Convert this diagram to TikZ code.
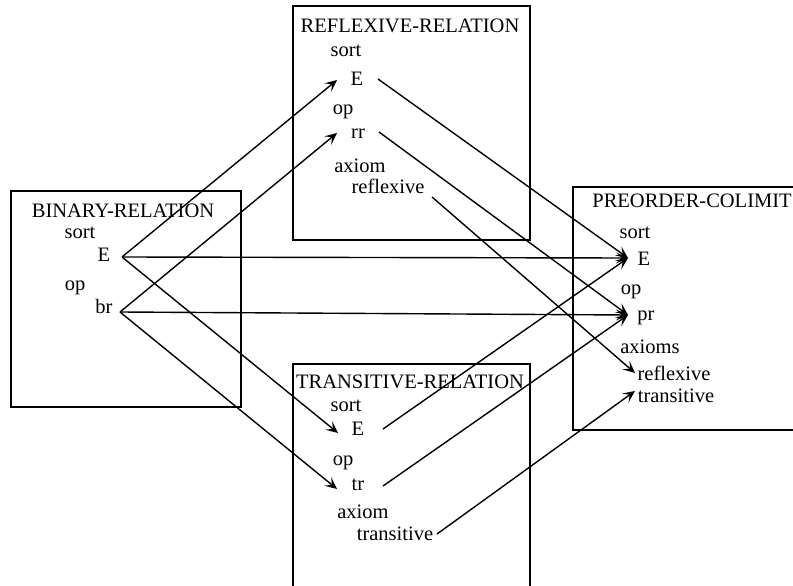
\documentclass[tikz,border=0pt]{standalone}
\usepackage{fontspec}
\setmainfont{Liberation Serif}
\usetikzlibrary{arrows.meta}
\begin{document}
\begin{tikzpicture}[x=1pt,y=-1pt,
  txt/.style={inner sep=0pt,anchor=base,font=\fontsize{20.5}{24}\selectfont},
  specbox/.style={draw,line width=1.4pt},
  arr/.style={line width=1.4pt,-{Stealth[length=12pt,width=11pt,inset=5.5pt]}}]
\useasboundingbox (0,0) rectangle (793,586);
\clip (0,0) rectangle (793,586);

% specification boxes
\draw[specbox] (11,191) rectangle (241,407);
\draw[specbox] (293,6) rectangle (530,240);
\draw[specbox] (573,187) rectangle (805,430);
\draw[specbox] (293,364) rectangle (530,600);

% BINARY-RELATION
\node[txt] (bT) at (123,217) {BINARY-RELATION};
\node[txt] (bS) at (80,238) {sort};
\node[txt] (bE) at (104,261) {E};
\node[txt] (bO) at (75,290) {op};
\node[txt] (bR) at (104,313) {br};

% REFLEXIVE-RELATION
\node[txt] (rT) at (410,33) {REFLEXIVE-RELATION};
\node[txt] (rS) at (346,57) {sort};
\node[txt] (rE) at (357,85) {E};
\node[txt] (rO) at (343,114) {op};
\node[txt] (rR) at (358,138) {rr};
\node[txt] (rA) at (360,172) {axiom};
\node[txt] (rX) at (388,193) {reflexive};

% PREORDER-COLIMIT
\node[txt] (pT) at (692,207) {PREORDER-COLIMIT};
\node[txt] (pS) at (635,238) {sort};
\node[txt] (pE) at (644,265) {E};
\node[txt] (pO) at (631,294) {op};
\node[txt] (pR) at (646,320) {pr};
\node[txt] (pA) at (650,353) {axioms};
\node[txt] (pX) at (674,380) {reflexive};
\node[txt] (pY) at (676,402) {transitive};

% TRANSITIVE-RELATION
\node[txt] (tT) at (410,388) {TRANSITIVE-RELATION};
\node[txt] (tS) at (346,411) {sort};
\node[txt] (tE) at (358,435) {E};
\node[txt] (tO) at (343,465) {op};
\node[txt] (tR) at (358,490) {tr};
\node[txt] (tA) at (363,518) {axiom};
\node[txt] (tY) at (395,540) {transitive};

% connection points beside the symbols
\coordinate (bE-o) at (122,257);
\coordinate (bR-o) at (120,312);
\coordinate (rE-i) at (337,80);
\coordinate (rE-o) at (378,79);
\coordinate (rR-i) at (337,133);
\coordinate (rR-o) at (379,132);
\coordinate (rX-o) at (432,197);
\coordinate (tE-i) at (338,433);
\coordinate (tE-o) at (383,429);
\coordinate (tR-i) at (337,489);
\coordinate (tR-o) at (383,486);
\coordinate (tY-o) at (437,534);
\coordinate (pE-i) at (628,258);
\coordinate (pR-i) at (628,315);
\coordinate (pX-i) at (635,373);
\coordinate (pY-i) at (635,391);

% morphisms out of BINARY-RELATION
\draw[arr] (bE-o) -- (rE-i);
\draw[arr] (bR-o) -- (rR-i);
\draw[arr] (bE-o) -- (pE-i);
\draw[arr] (bR-o) -- (pR-i);
\draw[arr] (bE-o) -- (tE-i);
\draw[arr] (bR-o) -- (tR-i);

% morphisms into PREORDER-COLIMIT
\draw[arr] (rE-o) -- (pE-i);
\draw[arr] (rR-o) -- (pR-i);
\draw[arr] (rX-o) -- (pX-i);
\draw[arr] (tE-o) -- (pE-i);
\draw[arr] (tR-o) -- (pR-i);
\draw[arr] (tY-o) -- (pY-i);
\end{tikzpicture}
\end{document}
